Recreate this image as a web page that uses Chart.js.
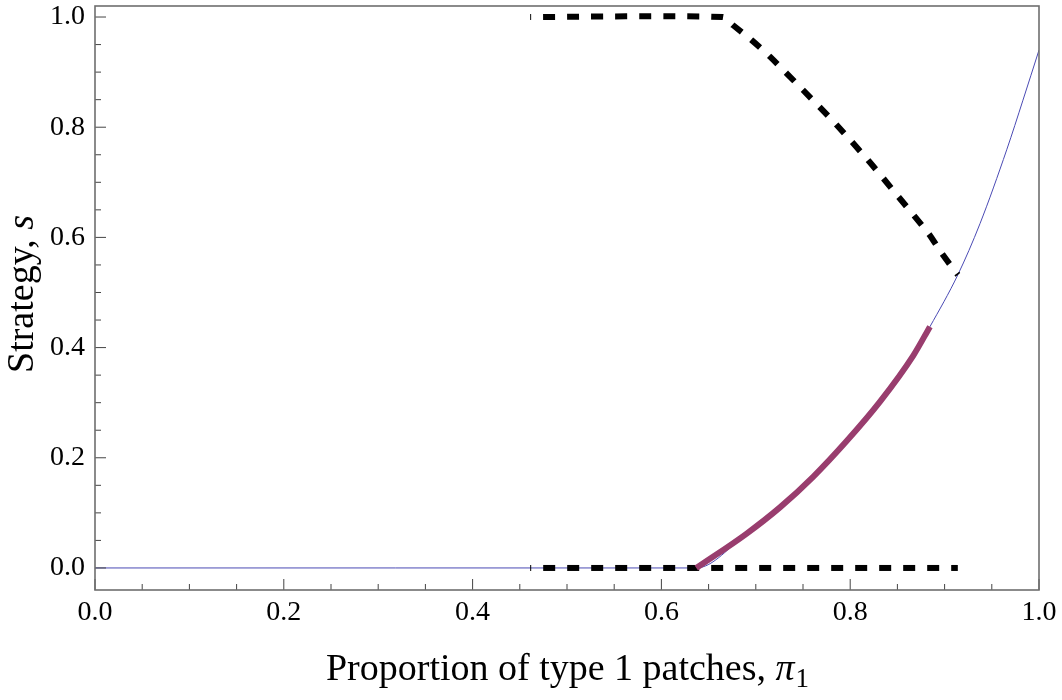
<!DOCTYPE html>
<html>
<head>
<meta charset="utf-8">
<script src="https://cdn.jsdelivr.net/npm/chart.js@4/dist/chart.umd.min.js"></script>
<style>
  html, body { margin: 0; padding: 0; background: #fff; }
  #wrap { width: 1062px; height: 700px; }
</style>
</head>
<body>
<div id="wrap"><canvas id="plot" width="1062" height="700"></canvas></div>
<script>
const SERIF = '"Liberation Serif", "DejaVu Serif", serif';

// thin blue curve (whole range)
var curveX = [0, 0.637, 0.690, 0.7256, 0.761, 0.796, 0.8316, 0.867, 0.8845, 0.914, 0.9375, 0.9658, 0.983, 1.0];
var curveY = [0, 0, 0.062, 0.110, 0.166, 0.230, 0.302, 0.386, 0.438, 0.532, 0.625, 0.759, 0.849, 0.94];

// thick purple part of the curve
var stableX = [0.637, 0.690, 0.7256, 0.761, 0.796, 0.8316, 0.867, 0.8845];
var stableY = [0, 0.062, 0.110, 0.166, 0.230, 0.302, 0.386, 0.438];

// dashed black boundaries
var upperX = [0.461, 0.665, 0.676, 0.6956, 0.715, 0.750, 0.7857, 0.819, 0.851, 0.883, 0.897, 0.914];
var upperY = [1.0, 1.0, 0.985, 0.958, 0.928, 0.8675, 0.804, 0.740, 0.674, 0.607, 0.571, 0.532];
var lowerX = [0.461, 0.914];
var lowerY = [0, 0];

var xTicks = [0, 0.2, 0.4, 0.6, 0.8, 1.0];
var yTicks = [0, 0.2, 0.4, 0.6, 0.8, 1.0];
var minorStep = 0.05;

var xTitle = ["Proportion of type 1 patches, ", "\u03c0", "1"];
var yTitle = ["Strategy, ", "s"];


function toPoints(xs, ys) {
    var pts = [];
    for (var i = 0; i < xs.length; i++) {
        pts.push({ x: xs[i], y: ys[i] });
    }
    return pts;
}

function drawTicks(ctx, scale, horizontal, area) {
    var lo = Math.ceil(scale.min / minorStep - 1e-9);
    var hi = Math.floor(scale.max / minorStep + 1e-9);
    for (var k = lo; k <= hi; k++) {
        var v = k * minorStep;
        var major = Math.abs(v / 0.2 - Math.round(v / 0.2)) < 1e-6;
        var len = major ? 11 : 6;
        var p = scale.getPixelForValue(v);
        ctx.beginPath();
        if (horizontal) {
            ctx.moveTo(p, area.bottom);
            ctx.lineTo(p, area.bottom - len);
        } else {
            ctx.moveTo(area.left, p);
            ctx.lineTo(area.left + len, p);
        }
        ctx.stroke();
    }
}

function drawTitles(chart) {
    var ctx = chart.ctx;
    var area = chart.chartArea;
    ctx.save();
    ctx.fillStyle = "#000";
    ctx.textBaseline = "alphabetic";
    ctx.textAlign = "left";

    // x title, with italic pi and subscript 1
    var big = "38px " + SERIF;
    var ital = "italic 38px " + SERIF;
    var small = "27px " + SERIF;
    ctx.font = big;
    var w1 = ctx.measureText(xTitle[0]).width;
    ctx.font = ital;
    var w2 = ctx.measureText(xTitle[1]).width;
    ctx.font = small;
    var w3 = ctx.measureText(xTitle[2]).width;
    var x = (area.left + area.right) / 2 - (w1 + w2 + w3) / 2;
    var base = 680;
    ctx.font = big;
    ctx.fillText(xTitle[0], x, base);
    ctx.font = ital;
    ctx.fillText(xTitle[1], x + w1, base);
    ctx.font = small;
    ctx.fillText(xTitle[2], x + w1 + w2 + 1, base + 7);

    // y title, rotated
    ctx.translate(33, (area.top + area.bottom) / 2 - 4);
    ctx.rotate(-Math.PI / 2);
    ctx.font = big;
    var v1 = ctx.measureText(yTitle[0]).width;
    ctx.font = ital;
    var v2 = ctx.measureText(yTitle[1]).width;
    var y0 = -(v1 + v2) / 2;
    ctx.font = big;
    ctx.fillText(yTitle[0], y0, 0);
    ctx.font = ital;
    ctx.fillText(yTitle[1], y0 + v1, 0);
    ctx.restore();
}

var framePlugin = {
    id: "frame",
    afterDraw: function (chart) {
        var ctx = chart.ctx;
        var area = chart.chartArea;
        ctx.save();
        ctx.strokeStyle = "#444";
        ctx.lineWidth = 1;
        drawTicks(ctx, chart.scales.x, true, area);
        drawTicks(ctx, chart.scales.y, false, area);
        ctx.strokeStyle = "#6e6e6e";
        ctx.lineWidth = 1.6;
        ctx.strokeRect(area.left, area.top, area.right - area.left, area.bottom - area.top);
        ctx.restore();
        drawTitles(chart);
    }
};

function makeChart() {
    var tickFont = { family: SERIF, size: 28 };

    new Chart("plot", {
        type: "scatter",
        data: {
            datasets: [
                {
                    data: toPoints(stableX, stableY),
                    showLine: true,
                    borderColor: "#993d6e",
                    borderWidth: 6,
                    borderCapStyle: "butt",
                    cubicInterpolationMode: "monotone",
                    pointRadius: 0,
                    order: 0
                },
                {
                    data: toPoints(upperX, upperY),
                    showLine: true,
                    borderColor: "#000",
                    borderWidth: 6,
                    borderDash: [12, 12],
                    borderDashOffset: 11,
                    tension: 0.25,
                    pointRadius: 0,
                    order: 1
                },
                {
                    data: toPoints(lowerX, lowerY),
                    showLine: true,
                    borderColor: "#000",
                    borderWidth: 6,
                    borderDash: [12, 12],
                    borderDashOffset: 11,
                    pointRadius: 0,
                    order: 1
                },
                {
                    data: toPoints(curveX, curveY),
                    showLine: true,
                    borderColor: "#4a4ab4",
                    borderWidth: 1,
                    cubicInterpolationMode: "monotone",
                    pointRadius: 0,
                    order: 2
                }
            ]
        },
        options: {
            responsive: false,
            animation: false,
            events: [],
            layout: { padding: { left: 0, top: 6, right: 23, bottom: 0 } },
            plugins: {
                legend: { display: false },
                tooltip: { enabled: false }
            },
            scales: {
                x: {
                    type: "linear",
                    min: 0,
                    max: 1,
                    border: { display: false },
                    grid: { display: false, drawTicks: false },
                    afterBuildTicks: function (scale) {
                        scale.ticks = xTicks.map(function (v) { return { value: v }; });
                    },
                    afterFit: function (scale) {
                        scale.height = 110;
                        scale.paddingLeft = 0;
                        scale.paddingRight = 0;
                    },
                    ticks: {
                        font: tickFont,
                        color: "#000",
                        padding: 6,
                        maxRotation: 0,
                        callback: function (v) { return v.toFixed(1); }
                    }
                },
                y: {
                    type: "linear",
                    min: -0.04,
                    max: 1.02,
                    border: { display: false },
                    grid: { display: false, drawTicks: false },
                    afterBuildTicks: function (scale) {
                        scale.ticks = yTicks.map(function (v) { return { value: v }; });
                    },
                    afterFit: function (scale) {
                        scale.width = 95;
                        scale.paddingTop = 0;
                        scale.paddingBottom = 0;
                    },
                    ticks: {
                        font: tickFont,
                        color: "#000",
                        padding: 10,
                        callback: function (v) { return v.toFixed(1); }
                    }
                }
            }
        },
        plugins: [framePlugin]
    });
}

window.onload = makeChart;
</script>
</body>
</html>
